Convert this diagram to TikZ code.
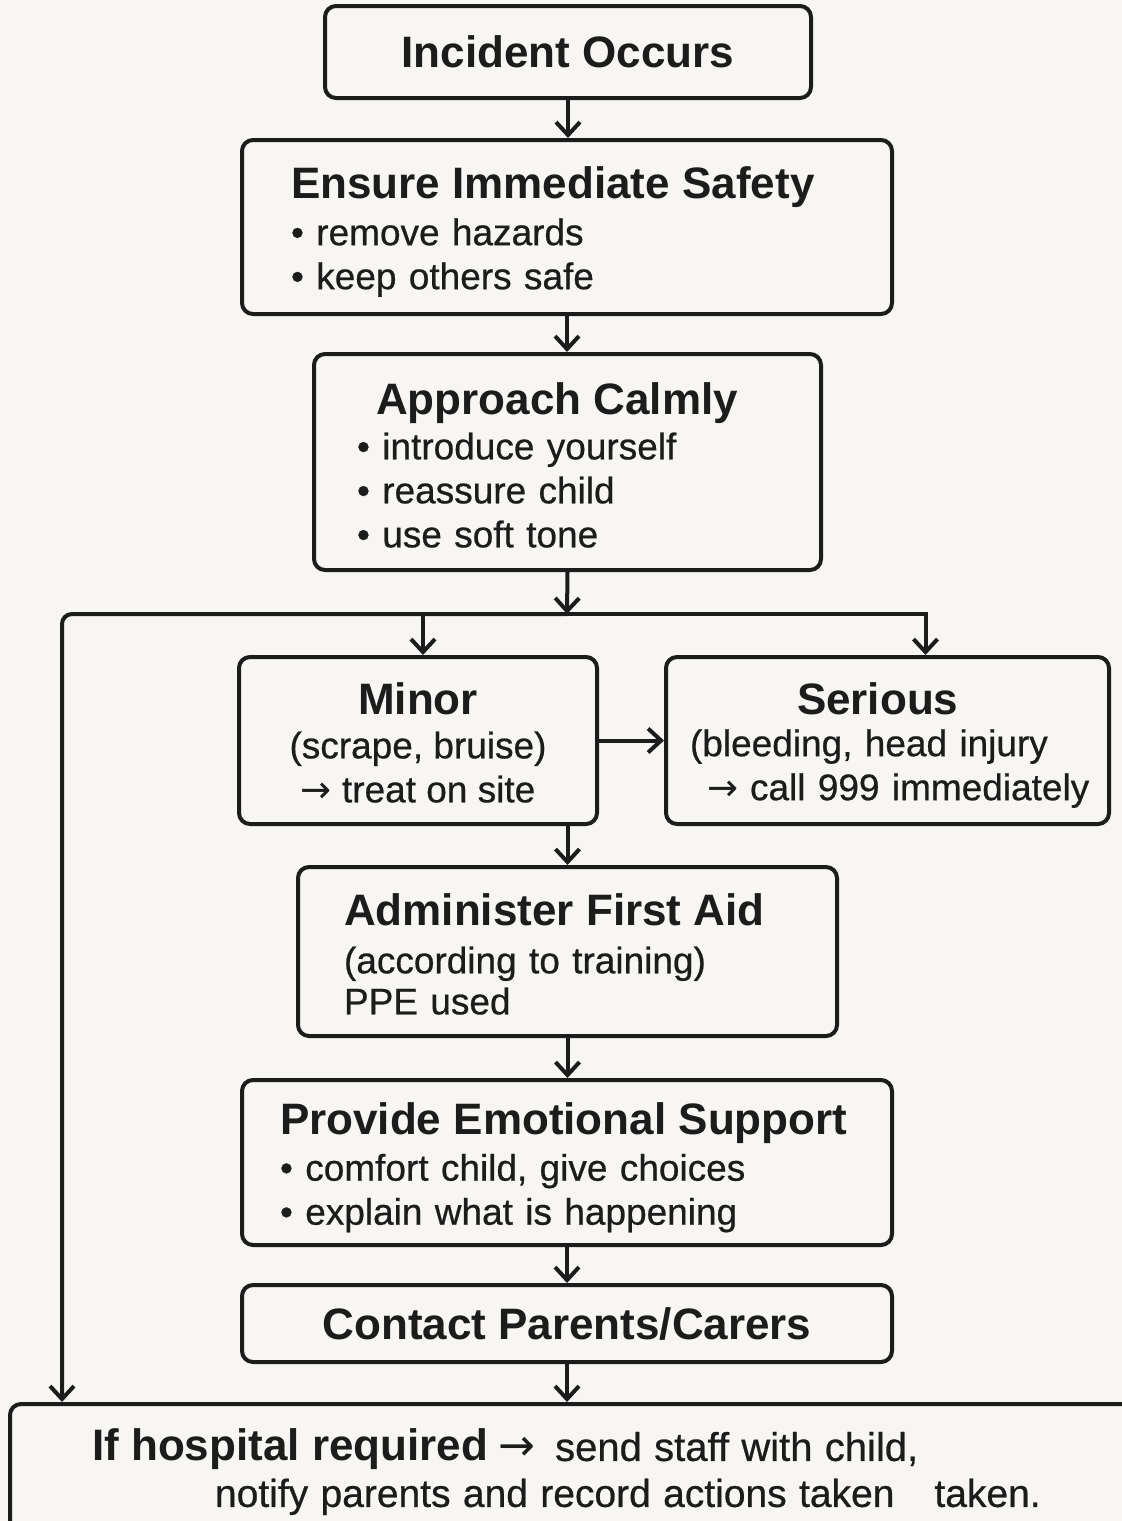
\documentclass[tikz,border=0pt]{standalone}
\usepackage{fontspec}
\setmainfont{Liberation Sans}
\newfontface\medium{Liberation Sans}[FakeBold=0.6]
\newfontfamily\symfont{DejaVu Sans}
\usetikzlibrary{arrows.meta}

\definecolor{paper}{HTML}{F7F6F3}
\definecolor{ink}{HTML}{1C1C1C}

\newcommand{\hd}[1]{{\normalfont\bfseries\fontsize{44}{49}\selectfont #1}}
\newcommand{\lift}[1]{\rule{0pt}{#1}}
\newcommand{\arr}{{\symfont →}}

\tikzset{
  stepbox/.style={draw=ink, line width=4pt, rounded corners=11pt, fill=paper, text=ink,
    inner ysep=0pt, font=\medium\fontsize{37}{44}\selectfont},
  flow/.style={draw=ink, line width=4pt, -{Straight Barb[length=13pt,width=24pt]}},
}

\begin{document}
\begin{tikzpicture}[x=1pt,y=-1pt]
    % page
    \fill[paper] (0,0) rectangle (1122,1521);
    \useasboundingbox (0,0) rectangle (1122,1521);

    % main column of steps
    \node[stepbox, minimum width=486pt, minimum height=92pt] (inc) at (568,52) {\hd{Incident Occurs}};

    \node[stepbox, minimum width=650pt, minimum height=174pt, inner xsep=49pt, text width=552pt, align=left]
        (safe) at (567,227) {\lift{41pt}\hd{Ensure Immediate Safety}\\[3pt] • remove hazards\\ • keep others safe};

    \node[stepbox, minimum width=507pt, minimum height=216pt, inner xsep=43pt, text width=421pt, align=left]
        (calm) at (567.5,462) {\lift{38pt}\hspace*{19pt}\hd{Approach Calmly}\\[1pt] • introduce yourself\\ • reassure child\\ • use soft tone};

    % the two kinds of injury
    \node[stepbox, minimum width=358pt, minimum height=167pt, inner xsep=0pt, align=center]
        (minor) at (418,740.5) {\lift{36pt}\hd{Minor}\\[0pt] (scrape, bruise)\\ \arr\ treat on site};

    \node[stepbox, minimum width=443pt, minimum height=167pt, inner xsep=24pt, text width=395pt, align=left]
        (serious) at (887.5,740.5) {\lift{41pt}\hspace*{107pt}\hd{Serious}\\[-2pt] (bleeding, head injury\\ \mbox{\hspace*{17pt}\arr\hspace{12pt}call 999 immediately}};

    \node[stepbox, minimum width=539pt, minimum height=169pt, inner xsep=46pt, text width=447pt, align=left]
        (aid) at (567.5,951.5) {\lift{37pt}\hd{Administer First Aid}\\[4pt] (according to training)\\[-3pt] PPE used};

    \node[stepbox, minimum width=650pt, minimum height=165pt, inner xsep=38pt, text width=574pt, align=left]
        (support) at (567,1162.5) {\lift{42pt}\hd{Provide Emotional Support}\\[2pt] • comfort child, give choices\\ • explain what is happening};

    \node[stepbox, minimum width=650pt, minimum height=77pt] (contact) at (567,1323.5) {\hd{Contact Parents/Carers}};

    % last box runs off the page
    \node[stepbox, minimum width=1125pt, minimum height=136pt, inner xsep=82pt, text width=961pt, align=left]
        (hosp) at (572.5,1472) {\mbox{\hd{If hospital required}\hspace{10pt}{\fontsize{44}{49}\selectfont\arr}\hspace{20pt}\fontsize{40}{46}\selectfont send staff with child,}\\[2pt]
        \mbox{\fontsize{39}{46}\selectfont\hspace*{123pt}notify parents and record actions taken\hspace{40pt}taken.}};

    % connectors
    \coordinate (split) at (567,614);
    \coordinate (leftrail) at (62,614);

    \draw[flow] (inc.south) -- (inc.south |- safe.north);
    \draw[flow] (safe.south) -- (safe.south |- calm.north);
    \draw[flow] (calm.south) -- (split);
    \draw[flow, rounded corners=10pt] (split) -- (leftrail) -- (leftrail |- hosp.north);
    \draw[flow] (split) -| ([xshift=5pt]minor.north);
    \draw[flow] (split) -| ([xshift=38pt]serious.north);
    \draw[flow] (minor.east) -- (serious.west);
    \draw[flow] (aid.north |- minor.south) -- (aid.north);
    \draw[flow] (aid.south) -- (aid.south |- support.north);
    \draw[flow] (support.south) -- (support.south |- contact.north);
    \draw[flow] (contact.south) -- (contact.south |- hosp.north);
\end{tikzpicture}
\end{document}
